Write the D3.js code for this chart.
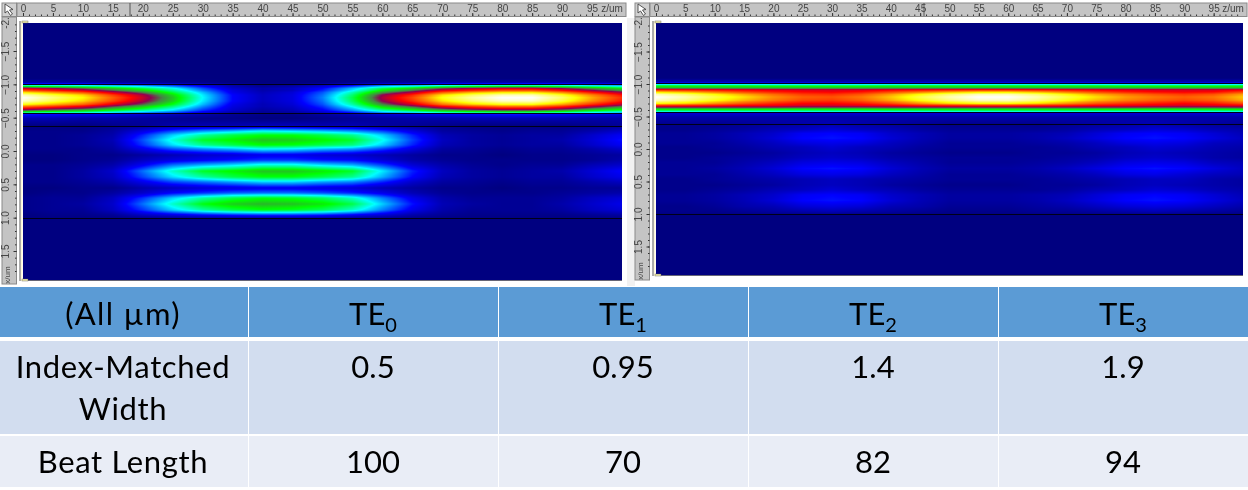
<!DOCTYPE html>
<html>
<head>
<meta charset="utf-8">
<script src="https://cdn.jsdelivr.net/npm/d3@7"></script>
<style>
  html, body { margin: 0; padding: 0; background: white; overflow: hidden; }
  #chart { position: relative; width: 1248px; height: 490px; }
  canvas, svg { position: absolute; left: 0; top: 0; }
</style>
</head>
<body>
<div id="chart"></div>
<script>
// Sample positions of the field maps (um)
var zSamples = [0, 5, 10, 15, 20, 25, 30, 35, 40, 45, 50, 55, 60, 65, 70, 75, 80, 85, 90, 95, 100];
var xSamples = [-2, -1.09, -1.03, -1, -0.97, -0.94, -0.91, -0.88, -0.84, -0.8, -0.75, -0.7, -0.67, -0.64,
  -0.61, -0.58, -0.55, -0.49, -0.37, -0.3, -0.24, -0.165, -0.09, -0.03, 0.06, 0.135, 0.21, 0.3, 0.39,
  0.465, 0.555, 0.63, 0.705, 0.795, 0.885, 0.96, 1.02, 2];

// Intensity, one row per xSamples entry
var leftField = [
  [0,0,0,0,0,0,0,0,0,0,0,0,0,0,0,0,0,0,0,0,0],
  [0,0,0,0,0,0,0,0,0,0,0,0,0,0,0,0,0,0,0,0,0],
  [3,3,3,2,2,1,1,0,0,0,0,1,2,2,3,3,3,3,3,3,2],
  [19,18,17,14,12,10,6,3,1,1,4,7,11,14,17,18,19,19,18,15,14],
  [42,39,36,31,26,20,12,5,2,4,8,16,25,30,37,40,42,42,39,34,29],
  [62,58,53,46,38,29,17,7,4,6,12,24,37,45,54,59,62,62,57,50,43],
  [72,67,62,53,45,34,20,9,4,6,14,27,43,52,63,68,72,72,66,58,50],
  [84,78,72,62,52,39,24,10,5,8,17,32,50,60,73,80,84,84,77,67,59],
  [96,89,83,71,60,45,27,12,6,9,19,36,58,69,84,91,96,96,88,77,67],
  [100,93,86,74,62,47,28,12,6,9,20,38,60,72,87,95,100,100,92,80,70],
  [97,90,83,72,60,46,27,12,6,9,19,37,58,70,84,92,97,97,89,78,68],
  [87,81,75,64,54,41,24,10,5,8,17,33,52,63,76,83,87,87,80,70,61],
  [76,71,65,56,47,36,21,9,5,7,15,29,46,55,66,72,76,76,70,61,53],
  [66,61,57,49,41,31,18,8,4,6,13,25,40,48,57,63,66,66,61,53,46],
  [55,51,47,41,34,26,15,7,3,5,11,21,33,40,48,52,55,55,51,44,39],
  [38,35,33,28,23,18,10,4,2,3,7,14,23,27,33,36,38,38,35,30,26],
  [13,12,11,10,8,6,4,2,1,1,3,5,8,9,11,12,13,13,12,10,9],
  [5,5,4,4,3,2,1,1,0,0,1,2,3,4,4,5,5,5,5,4,4],
  [0,0,0,1,2,4,5,5,6,6,5,5,3,2,1,0,0,0,0,1,2],
  [1,1,1,3,9,16,21,24,28,26,24,21,16,9,3,2,1,2,2,4,7],
  [1,1,2,4,14,25,33,38,41,41,38,34,25,14,5,3,2,3,3,7,11],
  [1,1,2,5,17,30,40,43,47,46,43,40,29,16,6,3,2,3,4,8,13],
  [1,1,2,4,15,26,34,38,42,41,38,35,25,14,5,3,2,3,3,7,11],
  [1,1,1,3,10,17,21,24,28,27,24,22,16,9,3,2,1,2,2,4,7],
  [0,0,1,1,3,5,7,8,10,10,8,7,5,3,1,1,0,1,1,2,3],
  [0,0,1,2,6,9,11,13,15,15,13,12,8,4,2,1,1,1,1,2,4],
  [1,1,2,4,11,19,23,26,30,30,26,23,16,8,4,2,1,2,2,5,7],
  [1,1,3,7,19,31,40,43,47,47,44,40,27,14,6,3,2,3,4,8,12],
  [1,1,3,6,16,26,33,38,41,41,38,34,23,12,5,3,2,3,3,7,10],
  [1,1,2,4,10,16,19,22,25,25,22,20,14,7,3,2,1,2,2,4,6],
  [0,0,1,1,4,6,8,9,10,10,9,8,5,3,1,1,0,1,1,2,2],
  [0,1,1,3,7,12,15,18,19,19,17,14,10,5,2,1,1,1,2,3,4],
  [1,2,2,6,15,25,33,38,41,40,37,31,20,10,4,2,2,2,3,6,8],
  [1,2,3,7,19,31,41,46,48,47,44,38,25,13,5,3,2,2,4,7,10],
  [1,2,2,6,15,25,33,38,41,40,37,31,20,10,4,2,2,2,3,6,8],
  [0,1,1,2,6,9,12,14,15,15,14,11,8,4,2,1,1,1,1,2,3],
  [0,0,0,0,0,0,0,0,0,0,0,0,0,0,0,0,0,0,0,0,0],
  [0,0,0,0,0,0,0,0,0,0,0,0,0,0,0,0,0,0,0,0,0]
];

// Intensity
var rightField = [
  [0,0,0,0,0,0,0,0,0,0,0,0,0,0,0,0,0,0,0,0,0],
  [0,0,0,0,0,0,0,0,0,0,0,0,0,0,0,0,0,0,0,0,0],
  [5,5,5,5,5,5,5,5,5,5,5,5,5,5,5,5,5,5,5,5,5],
  [24,24,24,24,23,23,23,23,24,24,24,24,24,24,24,24,23,23,23,23,24],
  [42,42,42,42,41,41,41,41,42,42,42,42,42,42,42,42,41,41,41,41,42],
  [47,47,47,47,47,47,47,47,47,47,47,47,47,47,47,47,47,47,47,47,47],
  [68,67,66,65,64,63,63,63,65,66,67,68,68,67,66,65,64,63,63,63,65],
  [82,79,75,71,68,66,65,67,71,75,79,82,82,79,75,71,68,66,65,66,71],
  [96,92,86,80,75,71,70,73,79,86,92,96,96,92,86,80,76,73,71,73,79],
  [100,96,90,84,78,74,73,76,82,90,96,100,100,96,90,84,79,76,74,76,82],
  [97,93,87,81,76,72,71,74,80,87,93,97,97,93,87,81,77,74,72,74,80],
  [86,83,78,73,69,66,66,68,72,78,83,86,86,83,78,73,70,68,66,68,72],
  [70,69,68,66,65,63,63,64,65,68,69,70,70,69,68,66,65,64,63,64,65],
  [56,56,56,56,56,55,55,55,56,56,56,56,56,56,56,56,56,55,55,55,56],
  [43,43,43,43,42,42,42,42,43,43,43,43,43,43,43,43,42,42,42,42,43],
  [33,33,33,33,33,33,33,33,33,33,33,33,33,33,33,33,33,33,33,33,33],
  [8,8,8,8,8,8,8,8,8,8,8,8,8,8,8,8,8,8,8,8,8],
  [4,4,4,4,4,4,4,4,4,4,4,4,4,4,4,4,4,4,4,4,4],
  [1,1,1,2,3,4,5,4,3,2,1,1,1,1,2,3,4,5,4,3,2],
  [1,1,2,3,5,6,8,6,5,3,2,2,2,2,3,5,6,8,7,5,4],
  [2,2,3,5,7,11,12,11,7,5,3,3,3,4,5,8,11,12,11,8,5],
  [2,2,3,5,8,12,13,12,8,5,3,3,3,4,6,9,12,13,12,9,6],
  [2,2,2,4,6,9,10,9,6,4,2,2,2,3,4,6,9,10,9,6,5],
  [1,1,2,3,5,6,8,6,5,3,2,2,2,2,3,5,6,8,7,5,4],
  [1,1,1,2,3,5,6,5,3,2,1,1,1,2,2,3,5,6,5,4,3],
  [1,1,2,3,4,6,7,6,4,3,2,2,2,2,3,4,6,7,6,4,3],
  [2,2,2,4,6,9,10,9,6,4,2,2,2,3,4,6,9,10,9,6,5],
  [2,2,3,5,8,12,13,12,8,5,3,3,3,4,6,9,12,13,12,9,6],
  [2,2,2,4,6,9,10,9,6,4,2,2,2,3,4,6,9,10,8,6,5],
  [1,1,2,3,4,5,6,5,4,3,2,2,2,2,3,4,5,6,6,4,3],
  [1,1,1,2,3,5,6,5,3,2,1,1,1,2,2,3,5,6,5,4,3],
  [1,1,2,3,5,6,8,6,5,3,2,2,2,2,3,5,6,8,7,5,4],
  [2,2,3,5,7,11,12,11,7,5,3,3,3,4,5,8,11,12,11,8,5],
  [2,2,3,5,8,12,13,12,8,5,3,3,3,4,6,9,12,13,12,9,6],
  [1,1,2,4,5,8,9,8,5,4,2,2,2,3,4,6,8,9,8,6,4],
  [1,1,1,2,3,4,5,4,3,2,1,1,1,2,2,3,4,5,4,3,2],
  [0,0,0,0,0,0,0,0,0,0,0,0,0,0,0,0,0,0,0,0,0],
  [0,0,0,0,0,0,0,0,0,0,0,0,0,0,0,0,0,0,0,0,0]
];

// Waveguide edges (um)
var leftEdges = [-1, -0.57, -0.37, 1];
var rightEdges = [-1.01, -0.575, -0.385, 1];

// Ruler ticks
var zTicks = [0, 5, 10, 15, 20, 25, 30, 35, 40, 45, 50, 55, 60, 65, 70, 75, 80, 85, 90, 95];
var xTicks = [-2, -1.5, -1, -0.5, 0, 0.5, 1, 1.5];

// Colour map
var colorStops = [0, 12, 28, 42, 52, 58, 66, 78, 86, 100];
var colorNames = ["#000080", "#0000ff", "#00ffff", "#00ff00", "#458545", "#900050", "#ff0000", "#ff9000", "#ffff00", "#ffffff"];

// Table contents
var tableHeads = ["(All µm)", "TE", "TE", "TE", "TE"];
var headSubs = ["", "0", "1", "2", "3"];
var widthRow = ["0.5", "0.95", "1.4", "1.9"];
var beatRow = ["100", "70", "82", "94"];

var width = 1248, height = 490;
var chart = d3.select("#chart");
var canvas = chart.append("canvas").attr("width", width).attr("height", height);
var ctx = canvas.node().getContext("2d");
var svg = chart.append("svg").attr("width", width).attr("height", height);

svg.append("defs").append("filter").attr("id", "soft")
  .append("feGaussianBlur").attr("stdDeviation", 0.35);

var color = d3.scaleLinear().domain(colorStops).range(colorNames).clamp(true);

// Look up a value in the field between the samples
function fieldAt(field, z, x) {
  var j = Math.min(d3.bisectRight(zSamples, z), zSamples.length - 1);
  var i = Math.min(d3.bisectRight(xSamples, x), xSamples.length - 1);
  var j0 = Math.max(j - 1, 0), i0 = Math.max(i - 1, 0);
  var tz = j === j0 ? 0 : (z - zSamples[j0]) / (zSamples[j] - zSamples[j0]);
  var tx = i === i0 ? 0 : (x - xSamples[i0]) / (xSamples[i] - xSamples[i0]);
  var top = field[i0][j0] * (1 - tz) + field[i0][j] * tz;
  var bot = field[i][j0] * (1 - tz) + field[i][j] * tz;
  return top * (1 - tx) + bot * tx;
}

function drawPanel(p) {
  var zScale = d3.scaleLinear().domain([0, 100]).range([p.left, p.right]);
  var xScale = d3.scaleLinear().domain([-1.5, 1.5]).range([p.y15, p.y15b]);

  // field map
  var w = p.right - p.left, h = p.bottom - p.top;
  var img = ctx.createImageData(w, h);
  for (var py = 0; py < h; py++) {
    for (var px = 0; px < w; px++) {
      var v = fieldAt(p.field, zScale.invert(p.left + px + 0.5), xScale.invert(p.top + py + 0.5));
      var c = d3.rgb(color(v));
      var k = (py * w + px) * 4;
      img.data[k] = c.r; img.data[k + 1] = c.g; img.data[k + 2] = c.b; img.data[k + 3] = 255;
    }
  }
  ctx.putImageData(img, p.left, p.top);

  var g = svg.append("g");

  // waveguide edges
  g.selectAll(".edge").data(p.edges).enter().append("line")
    .attr("x1", p.left).attr("x2", p.right)
    .attr("y1", d => Math.round(xScale(d)) + 0.5).attr("y2", d => Math.round(xScale(d)) + 0.5)
    .attr("stroke", "#000018").attr("stroke-width", 1);

  // frame of the map
  g.append("line").attr("x1", p.left - 1.5).attr("x2", p.left - 1.5).attr("y1", p.top - 2).attr("y2", p.bottom + 1)
    .attr("stroke", "#fff8d8").attr("stroke-width", 1.5);
  g.append("line").attr("x1", p.left - 3).attr("x2", p.left - 3).attr("y1", p.top - 2).attr("y2", p.bottom + 1)
    .attr("stroke", "#333").attr("stroke-width", 0.8);
  g.append("line").attr("x1", p.left).attr("x2", p.right).attr("y1", p.bottom + 0.5).attr("y2", p.bottom + 0.5)
    .attr("stroke", "#667");
  g.append("rect").attr("x", p.left - 1).attr("y", p.top - 2).attr("width", 6).attr("height", 2).attr("fill", "#f4efb0").attr("stroke", "#555").attr("stroke-width", 0.4);
  g.append("rect").attr("x", p.left - 1).attr("y", p.bottom - 1).attr("width", 6).attr("height", 2).attr("fill", "#f4efb0").attr("stroke", "#555").attr("stroke-width", 0.4);

  // top ruler
  g.append("rect").attr("x", p.rulerX).attr("y", 3).attr("width", p.rulerEnd - p.rulerX).attr("height", 13.5)
    .attr("fill", "#c4c4c4").attr("stroke", "#8a8a8a").attr("stroke-width", 1);
  g.append("line").attr("x1", p.cursor).attr("x2", p.cursor).attr("y1", 3).attr("y2", 16).attr("stroke", "#555");

  var zMinor = svg.append("g").attr("transform", "translate(0,16)").attr("filter", "url(#soft)");
  zMinor.call(d3.axisTop(zScale).tickValues(d3.range(0, 100)).tickSize(1.5).tickFormat(""));
  var zAxis = svg.append("g").attr("transform", "translate(0,16)").attr("filter", "url(#soft)");
  zAxis.call(d3.axisTop(zScale).tickValues(zTicks).tickSize(3).tickPadding(1));
  [zMinor, zAxis].forEach(a => {
    a.select(".domain").remove();
    a.selectAll("line").attr("stroke", "#333");
  });
  zAxis.selectAll("text").attr("font-family", "Liberation Sans").attr("font-size", 10).attr("fill", "#444");
  svg.append("text").text("z/um").attr("x", p.zLabel).attr("y", 12).attr("text-anchor", "middle")
    .attr("font-family", "Liberation Sans").attr("font-size", 10).attr("fill", "#444").attr("filter", "url(#soft)");

  // left ruler
  g.append("rect").attr("x", p.sideX).attr("y", 17).attr("width", 14.5).attr("height", p.sideEnd - 17)
    .attr("fill", "#c4c4c4").attr("stroke", "#8a8a8a").attr("stroke-width", 1);
  var sideX = p.sideX + 14.5;
  var xMinor = svg.append("g").attr("transform", `translate(${sideX},0)`).attr("filter", "url(#soft)");
  xMinor.call(d3.axisLeft(xScale).tickValues(d3.range(-19, 19).map(d => d / 10)).tickSize(1.5).tickFormat(""));
  var xAxis = svg.append("g").attr("transform", `translate(${sideX},0)`).attr("filter", "url(#soft)");
  xAxis.call(d3.axisLeft(xScale).tickValues(xTicks.slice(1)).tickSize(3).tickFormat(d3.format(".1f")));
  [xMinor, xAxis].forEach(a => {
    a.select(".domain").remove();
    a.selectAll("line").attr("stroke", "#333");
  });
  xAxis.selectAll("text")
    .attr("font-family", "Liberation Sans").attr("font-size", 10).attr("fill", "#444")
    .attr("text-anchor", "middle").attr("dy", null)
    .attr("x", null)
    .attr("transform", "translate(-10.5,0) rotate(-90)")
    .attr("dominant-baseline", "middle");
  svg.append("text").text("-2.").attr("transform", `translate(${p.sideX + 4},23) rotate(-90)`)
    .attr("text-anchor", "middle").attr("dominant-baseline", "middle")
    .attr("font-family", "Liberation Sans").attr("font-size", 10).attr("fill", "#444").attr("filter", "url(#soft)");
  svg.append("text").text("x/um").attr("transform", `translate(${p.sideX + 6},${p.sideEnd - 9}) rotate(-90)`)
    .attr("text-anchor", "middle").attr("dominant-baseline", "middle")
    .attr("font-family", "Liberation Sans").attr("font-size", 8).attr("fill", "#444").attr("filter", "url(#soft)");

  // pointer icon in the corner
  g.append("rect").attr("x", p.sideX).attr("y", 3).attr("width", 14.5).attr("height", 13.5)
    .attr("fill", "#d0d0d0").attr("stroke", "#8a8a8a");
  g.append("path")
    .attr("transform", `translate(${p.sideX + 2},4)`)
    .attr("d", "M1,0 L1,9 L3.5,7 L6.5,11.5 L8.5,10 L5.5,6 L9,5.5 Z")
    .attr("fill", "white").attr("stroke", "#444").attr("stroke-width", 0.9);
}

// scroll strip between the two maps
svg.append("rect").attr("x", 627).attr("y", 18).attr("width", 8).attr("height", 268).attr("fill", "#f1f1f1");

drawPanel({
  field: leftField, edges: leftEdges, left: 23, right: 622, top: 23, bottom: 280,
  y15: 51, y15b: 251, rulerX: 17, rulerEnd: 626, cursor: 130,
  sideX: 2, sideEnd: 284, zLabel: 612
});
drawPanel({
  field: rightField, edges: rightEdges, left: 656, right: 1243, top: 23, bottom: 275,
  y15: 51.5, y15b: 246.5, rulerX: 650, rulerEnd: 1247, cursor: 924,
  sideX: 635, sideEnd: 280, zLabel: 1233
});

// Table below the maps
var colScale = d3.scaleBand().domain(d3.range(5)).range([-2, 1248]);
var tableFont = "Lato, Carlito, sans-serif";
var rowBands = [
  { y: 287, h: 50, fill: "#5b9bd5" },
  { y: 341, h: 93, fill: "#d2ddef" },
  { y: 436, h: 51, fill: "#e9edf6" }
];
var table = svg.append("g");
rowBands.forEach(r => {
  table.selectAll(null).data(d3.range(5)).enter().append("rect")
    .attr("x", d => colScale(d) + (d ? 1 : 0))
    .attr("y", r.y)
    .attr("width", d => colScale.bandwidth() - (d ? 1 : 0))
    .attr("height", r.h)
    .attr("fill", r.fill);
});

function cellText(col, y, str, spacing) {
  return table.append("text")
    .attr("x", colScale(col) + colScale.bandwidth() / 2)
    .attr("y", y)
    .attr("text-anchor", "middle")
    .attr("font-family", tableFont)
    .attr("font-size", 31)
    .attr("letter-spacing", spacing || 0)
    .attr("fill", "black")
    .text(str);
}

tableHeads.forEach((t, i) => {
  var cell = cellText(i, 325, t, i ? 0 : 1.3);
  if (headSubs[i]) {
    cell.append("tspan").attr("font-size", 20).attr("dy", 7).text(headSubs[i]);
  }
});
cellText(0, 378, "Index-Matched", 0.65);
cellText(0, 420, "Width", 0.65);
cellText(0, 473, "Beat Length", 0.65);
widthRow.forEach((t, i) => cellText(i + 1, 378, t));
beatRow.forEach((t, i) => cellText(i + 1, 473, t));
</script>
</body>
</html>
